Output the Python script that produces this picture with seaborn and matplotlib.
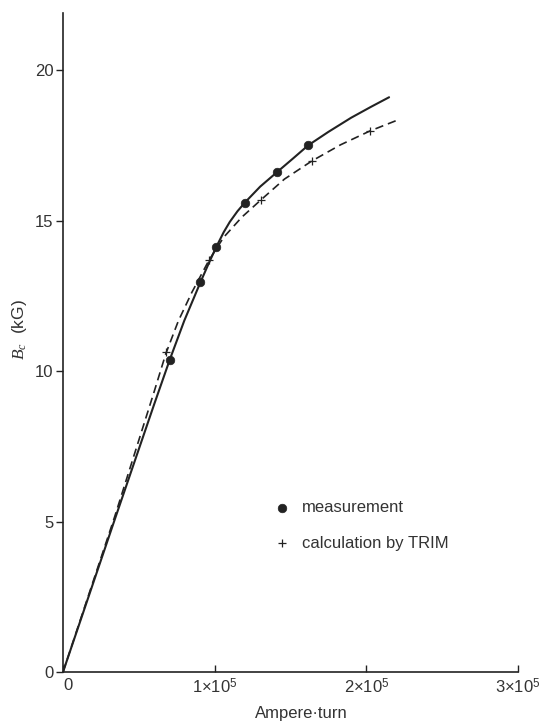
import matplotlib
matplotlib.use("Agg")
import matplotlib.pyplot as plt
import seaborn as sns
import pandas as pd
from matplotlib.ticker import FixedLocator

# Magnet excitation curve: central field vs ampere-turns (x in units of 1e5 A·t)
meas_x = [0.704, 0.906, 1.011, 1.199, 1.413, 1.616]
meas_y = [10.38, 12.95, 14.13, 15.60, 16.62, 17.50]

trim_x = [0.678, 0.963, 1.303, 1.640, 2.024]
trim_y = [10.63, 13.69, 15.68, 16.98, 17.98]

# measured curve (solid)
solid_x = [0.0, 0.34, 0.60, 0.704, 0.80, 0.906, 0.96, 1.011, 1.06, 1.10, 1.15,
           1.199, 1.30, 1.413, 1.52, 1.616, 1.75, 1.90, 2.03, 2.15]
solid_y = [0.0, 5.05, 8.88, 10.38, 11.68, 12.95, 13.57, 14.13, 14.62, 14.96, 15.31,
           15.60, 16.13, 16.62, 17.08, 17.50, 17.95, 18.42, 18.78, 19.10]

# TRIM calculation (dashed)
dash_x = [0.0, 0.34, 0.60, 0.678, 0.76, 0.85, 0.963, 1.06, 1.18, 1.303, 1.46,
          1.640, 1.83, 2.024, 2.20]
dash_y = [0.0, 5.15, 9.30, 10.58, 11.66, 12.62, 13.69, 14.45, 15.12, 15.68, 16.38,
          16.98, 17.52, 17.98, 18.33]

x_ticks = [0, 1, 2, 3]
x_tick_labels = ["0", "1×10$^5$", "2×10$^5$", "3×10$^5$"]
y_ticks = [0, 5, 10, 15, 20]
y_tick_labels = ["0", "5", "10", "15", "20"]

sns.set_style("ticks")
plt.rcParams["font.family"] = ["Liberation Sans", "DejaVu Sans"]
plt.rcParams["mathtext.fontset"] = "custom"
plt.rcParams["mathtext.rm"] = "Liberation Sans"
plt.rcParams["mathtext.it"] = "Liberation Serif:italic"
ink = "#222222"
text_c = "#333333"

fig = plt.figure(figsize=(5.47, 7.24), dpi=100)
ax = fig.add_axes([63 / 547, 1 - 672 / 724, (518 - 63) / 547, (672 - 13) / 724])

sns.lineplot(data=pd.DataFrame({"x": solid_x, "y": solid_y}), x="x", y="y",
             ax=ax, color=ink, lw=1.5, sort=False, estimator=None)
sns.lineplot(data=pd.DataFrame({"x": dash_x, "y": dash_y}), x="x", y="y",
             ax=ax, color=ink, lw=1.2, sort=False, estimator=None,
             dashes=False, linestyle=(0, (5, 3)))
sns.scatterplot(x=meas_x, y=meas_y, ax=ax, color=ink, s=38, marker="o",
                edgecolor=ink, linewidth=0.5, label="measurement", zorder=5)
sns.scatterplot(x=trim_x, y=trim_y, ax=ax, color=ink, s=36, marker="+",
                linewidth=0.9, label="calculation by TRIM", zorder=5)

ax.set_xlim(0, 3)
ax.set_ylim(0, 21.9)
ax.xaxis.set_major_locator(FixedLocator(x_ticks))
ax.set_xticklabels(x_tick_labels)
ax.yaxis.set_major_locator(FixedLocator(y_ticks))
ax.set_yticklabels(y_tick_labels)

for side in ("top", "right"):
    ax.spines[side].set_visible(False)
for side in ("left", "bottom"):
    ax.spines[side].set_color(ink)
    ax.spines[side].set_linewidth(1.2)

ax.tick_params(axis="y", direction="out", length=5, width=1.0, color=ink,
               labelsize=12, labelcolor=text_c, pad=2)
ax.tick_params(axis="x", direction="in", length=5, width=1.0, color=ink,
               labelsize=12, labelcolor=text_c, pad=4)
for lbl in ax.get_xticklabels():
    if lbl.get_text() == "0":
        lbl.set_horizontalalignment("left")

ax.set_xlabel("Ampere·turn", fontsize=12, color=text_c)
ax.xaxis.set_label_coords((301 - 63) / (518 - 63), -0.052)
ax.set_ylabel("$B_c$  (kG)", fontsize=12.5, color=text_c)
ax.yaxis.set_label_coords(-0.075, (672 - 330) / (672 - 13))

leg = ax.legend(loc="upper left", bbox_to_anchor=(275 / 547, 1 - 500 / 724),
                bbox_transform=fig.transFigure, frameon=False, fontsize=12,
                handlelength=0.8, handletextpad=0.8, labelspacing=1.25,
                borderpad=0, borderaxespad=0)
for t in leg.get_texts():
    t.set_color(text_c)

fig.savefig("out.png", dpi=100)
